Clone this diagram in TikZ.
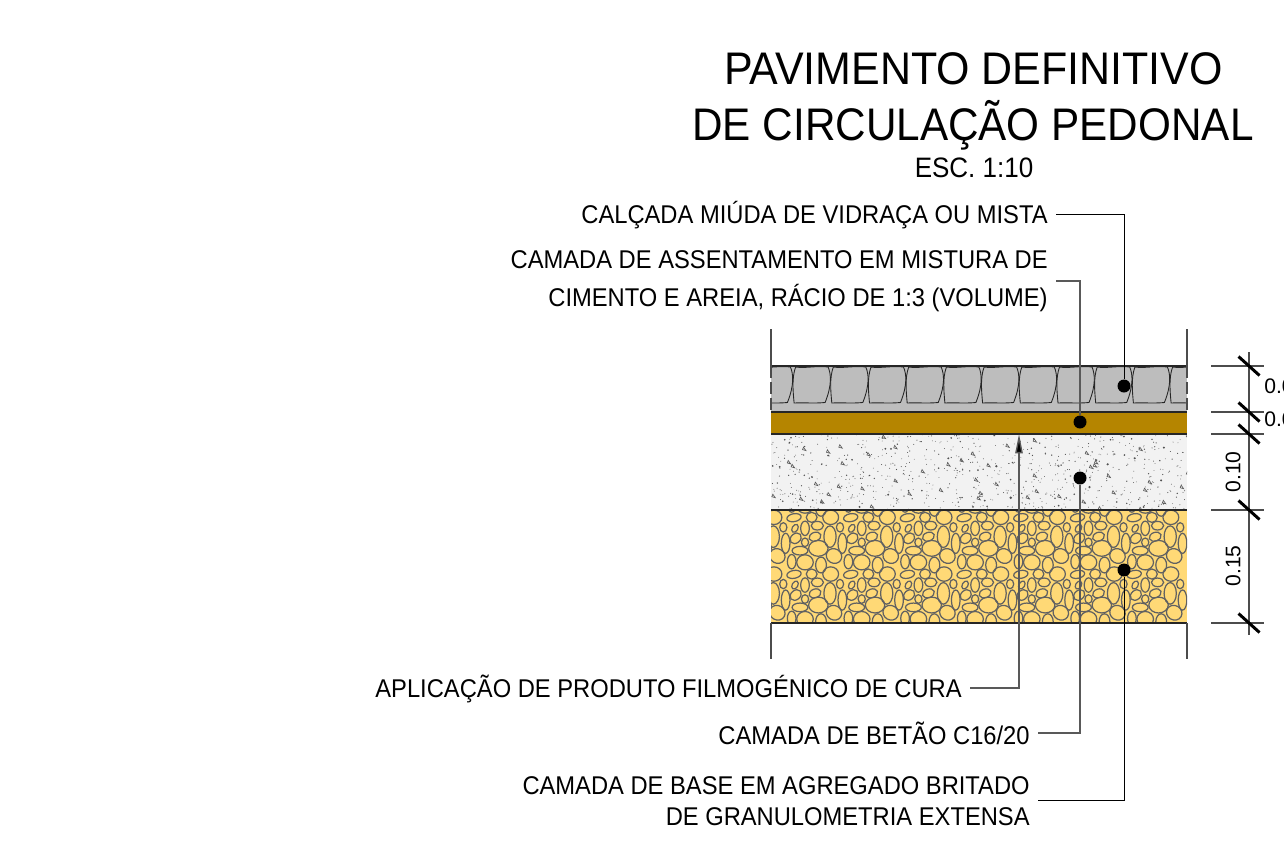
\documentclass[tikz,border=0pt]{standalone}
\usepackage{fontspec}
\setmainfont{Liberation Sans}
\usetikzlibrary{arrows.meta}

\tikzset{
  leader/.style={draw=black,line width=.45pt},
  leadergrey/.style={draw=black!65,line width=.8pt},
  leaderdot/.style={circle,fill=black,inner sep=0pt,minimum size=7.4pt},
  calltext/.style={inner sep=0pt,align=right,anchor=east,font=\fontsize{14.6}{21.6}\selectfont},
  titletext/.style={inner sep=0pt,font=\fontsize{26}{32}\selectfont},
  dimtext/.style={inner sep=0pt,font=\fontsize{12}{14}\selectfont},
  dimline/.style={draw=black!70,line width=.6pt},
  dimtick/.style={draw=black,line width=1.7pt},
  layerline/.style={draw=black!85,line width=.7pt},
  pebble/.style={draw=black!62,line width=.7pt},
}
\definecolor{paverfill}{HTML}{BDBDBD}
\definecolor{mortarfill}{HTML}{B58500}
\definecolor{concretefill}{HTML}{F2F2F2}
\definecolor{pebblefill}{HTML}{FFD976}
\newcommand{\narrowtext}[1]{\scalebox{.925}[1]{#1}}
\begin{document}
\begin{tikzpicture}[x=.02cm,y=-.02cm]
  \useasboundingbox (0,0) rectangle (1284,863);

  % layers
  \fill[paverfill] (771,366) rectangle (1187,412);
  \fill[mortarfill] (771,412) rectangle (1187,434);
  \fill[concretefill] (771,434) rectangle (1187,510);
  \fill[pebblefill] (771,510) rectangle (1187,623);

  % pavers
  \begin{scope}
    \clip (771,366) rectangle (1187,412);
    \foreach \px in {755.4,793.1,...,1200} {
      \draw[draw=black!85,line width=.5pt] (\px+2.5,367) .. controls (\px+12,368.5) and (\px+24,365.5) .. (\px+35,367)
        .. controls (\px+38,374) and (\px+39,385) .. (\px+32,402.5)
        .. controls (\px+22,403.5) and (\px+10,402.5) .. (\px+1,403)
        .. controls (\px+0,392) and (\px-1.5,378) .. (\px+2.5,367);
    }
  \end{scope}

  % concrete speckle
  \begin{scope}
    \clip (771,434) rectangle (1187,510);
    \pgfmathsetseed{1620}
    \foreach \n in {1,...,800} {
      \pgfmathsetmacro{\sx}{771+416*rnd}
      \pgfmathsetmacro{\sy}{434+76*rnd}
      \pgfmathsetmacro{\sr}{.4+1.1*rnd*rnd*rnd}
      \fill[black!68] (\sx,\sy) circle [radius=\sr*.02cm];
    }
    \foreach \n in {1,...,50} {
      \pgfmathsetmacro{\sx}{771+416*rnd}
      \pgfmathsetmacro{\sy}{434+76*rnd}
      \draw[black!65,line width=.35pt] (\sx,\sy) -- ++(3.5,1) -- ++(-2.5,-3.5) -- cycle;
    }
  \end{scope}

  % pebbles
  \begin{scope}
    \clip (771,510) rectangle (1187,623);
    \foreach \tx in {0,56.7,...,450} {
      \foreach \ty in {0,56.7,113.4} {
        \begin{scope}[shift={(\tx,\ty)}]
          \foreach \cx/\cy/\rx/\ry/\ro in {
            102/53/20/11/10, 155/52/15/14/0, 212/52/22/20/0, 135/85/12/20/0,
            172/77/17/12/0, 105/85/8/12/-30, 240/82/10/13/0, 210/110/17/30/0,
            247/130/12/28/0, 165/110/17/12/20, 107/115/17/13/40, 135/127/10/12/0,
            175/145/27/22/0, 120/152/22/12/0, 222/168/22/20/-30, 95/185/12/20/0,
            135/187/23/21/0, 183/195/15/22/0}
            \draw[pebble] (760+\cx/3-56.7,500+\cy/3-56.7) ellipse [x radius=\rx*.0072cm,y radius=\ry*.0072cm,rotate=\ro];
        \end{scope}
      }
    }
  \end{scope}

  % layer lines
  \draw[layerline] (771,366) -- (1187,366);
  \draw[layerline] (771,412) -- (1187,412);
  \draw[layerline] (771,434) -- (1187,434);
  \draw[layerline] (771,510) -- (1187,510);
  \draw[layerline] (771,623) -- (1187,623);
  \foreach \ex in {771,1187} {
    \draw[dimline] (\ex,329) -- (\ex,366);
    \draw[dimline,dash pattern=on 7pt off 2pt] (\ex,366) -- (\ex,412);
    \draw[dimline] (\ex,623) -- (\ex,659);
  }

  % dimensions
  \draw[dimline] (1249,352) -- (1249,635);
  \foreach \dy in {366,412,434,510,623} {
    \draw[dimline] (1211,\dy) -- (1264,\dy);
    \draw[dimtick] (1238.5,\dy-9.5) -- (1259.5,\dy+9.5);
  }
  \node[dimtext,anchor=west] (dimpaver) at (1264,386) {0.06};
  \node[dimtext,anchor=west] (dimbed) at (1264,419) {0.03};
  \node[dimtext,rotate=90] (dimconcrete) at (1233,472) {0.10};
  \node[dimtext,rotate=90] (dimbase) at (1233,566) {0.15};

  % titles
  \node[titletext] (titlea) at (973.5,69) {\scalebox{.94}[1]{PAVIMENTO DEFINITIVO}};
  \node[titletext] (titleb) at (973,125) {\narrowtext{DE CIRCULAÇÃO PEDONAL}};
  \node[inner sep=0pt,font=\fontsize{16}{16}\selectfont] (scale) at (974,168) {\narrowtext{ESC. 1:10}};

  % callouts
  \node[calltext] (calcada) at (1048,215) {\narrowtext{CALÇADA MIÚDA DE VIDRAÇA OU MISTA}};
  \node[calltext] (assent) at (1048,281) {\narrowtext{CAMADA DE ASSENTAMENTO EM MISTURA DE}\\\narrowtext{CIMENTO E AREIA, RÁCIO DE 1:3 (VOLUME)}};
  \node[calltext] (cura) at (962,689) {\narrowtext{APLICAÇÃO DE PRODUTO FILMOGÉNICO DE CURA}};
  \node[calltext] (betao) at (1030,733) {\narrowtext{CAMADA DE BETÃO C16/20}};
  \node[calltext,font=\fontsize{14.6}{18}\selectfont] (base) at (1030,801) {\narrowtext{CAMADA DE BASE EM AGREGADO BRITADO}\\\narrowtext{DE GRANULOMETRIA EXTENSA}};

  \node[leaderdot] (dotpaver) at (1124,386) {};
  \node[leaderdot] (dotbed) at (1080,422) {};
  \node[leaderdot] (dotconcrete) at (1080,478) {};
  \node[leaderdot] (dotbase) at (1124,570) {};
  \coordinate (curatip) at (1019,434);

  \draw[leader] (calcada.east) ++(8,-1) -| (dotpaver);
  \draw[leadergrey] (assent.east) ++(8,0) -| (dotbed);
  \draw[leadergrey] (betao.east) ++(8,0) -| (dotconcrete);
  \draw[leader] (base.east) ++(8,-1) -| (dotbase);
  \draw[leadergrey,-{Triangle[length=11pt,width=4.2pt,fill=black]}] (cura.east) ++(8,-1) -| (curatip);
\end{tikzpicture}
\end{document}
